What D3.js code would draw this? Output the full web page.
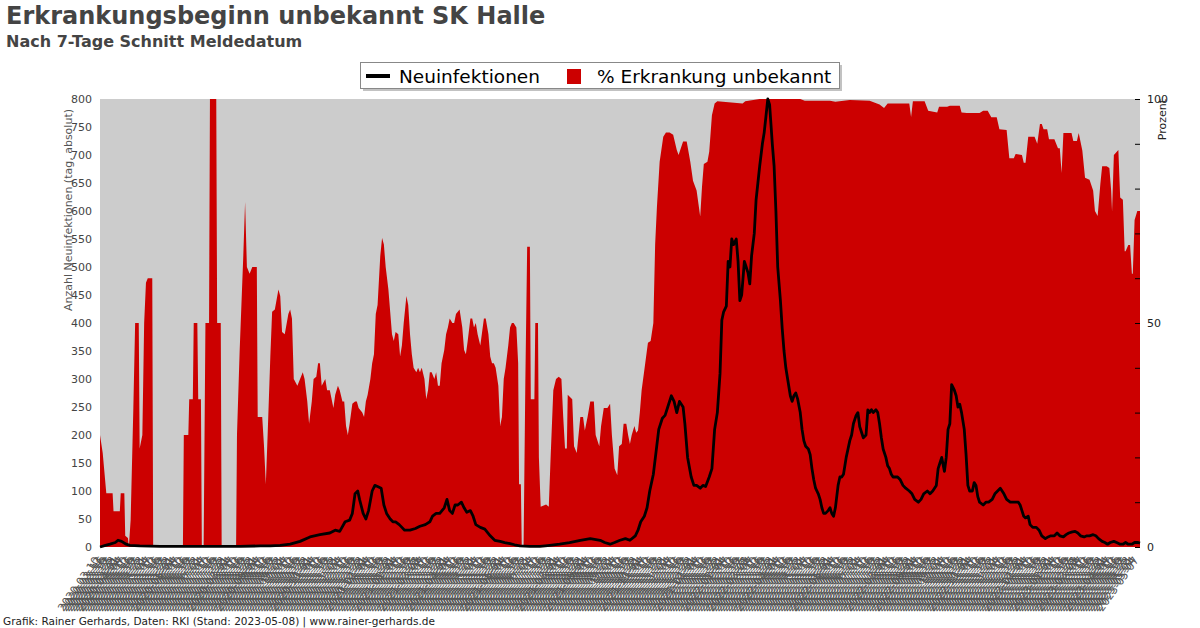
<!DOCTYPE html>
<html><head><meta charset="utf-8">
<script src="https://cdn.jsdelivr.net/npm/d3@7"></script>
<style>
html,body{margin:0;padding:0;background:#fff;}
svg{display:block;font-family:"DejaVu Sans",sans-serif;}
</style></head>
<body>
<svg id="chart" width="1200" height="628"></svg>
<script>
// ---- data ----
const startDate = "2020-03-10";
const endDate = "2023-05-08";
const title = "Erkrankungsbeginn unbekannt SK Halle";
const subtitle = "Nach 7-Tage Schnitt Meldedatum";
const seriesNames = ["Neuinfektionen", "% Erkrankung unbekannt"];
const leftTicks = [0,50,100,150,200,250,300,350,400,450,500,550,600,650,700,750,800];
const rightTickLabels = [0,50,100];
const footer = "Grafik: Rainer Gerhards, Daten: RKI (Stand: 2023-05-08) | www.rainer-gerhards.de";

// % Erkrankung unbekannt (day offset from start, percent)
const pctDays = [0,3,7,14,15,22,23,27,28,31,32,34,37,39,43,44,47,49,51,53,58,59,92,93,98,99,103,104,108,109,112,113,115,117,121,122,129,130,134,135,151,152,155,159,161,163,166,169,174,175,180,182,184,186,189,191,194,198,200,202,205,209,211,213,215,219,222,225,227,230,232,235,237,240,242,244,246,250,252,255,259,261,264,266,269,271,273,275,277,280,283,285,287,291,293,295,297,300,302,304,306,308,311,313,315,317,320,322,324,326,328,331,333,335,337,340,342,344,346,348,351,353,355,357,360,362,364,366,368,371,373,375,377,379,382,384,386,388,391,393,395,397,399,402,404,406,408,411,413,415,417,419,422,424,426,428,431,433,435,437,439,442,444,446,448,450,453,455,457,459,462,464,465,467,468,470,472,474,477,478,482,483,486,487,489,495,498,500,503,506,509,512,514,516,518,519,524,526,529,533,536,538,541,544,548,550,554,556,559,563,566,568,571,574,576,579,581,584,586,588,590,593,595,597,599,601,605,608,611,614,616,618,621,625,628,632,636,640,642,647,651,655,658,662,666,668,670,674,676,679,682,685,713,716,732,777,782,810,816,832,854,865,870,874,893,898,900,902,915,919,929,931,940,943,954,956,962,976,980,985,989,995,998,1006,1009,1014,1016,1023,1025,1027,1030,1037,1040,1043,1045,1047,1051,1053,1059,1063,1065,1067,1069,1078,1080,1084,1086,1090,1093,1098,1102,1104,1107,1110,1112,1117,1120,1122,1123,1125,1130,1132,1135,1137,1138,1141,1143,1145,1146,1148,1151,1154];
const pctValues = [25,21,12,12,8,8,12,12,2.5,2,0,6,31,50,50,22,25,50,59,60,60,0,0,25,25,33,33,50,50,33,33,0,0,50,50,100,100,50,50,0,0,25,44,65,77,62.5,61,62.5,62.5,29,29,22.5,14,25,42.5,52.5,53,57.5,56,48,47.5,52,53,51,37.5,36,37.5,39,37.5,32.5,27.5,32.5,37.5,38,41,41,36,37.5,35,35,31,34,36,35,32.5,32.5,27,25,27.5,32,32.5,32.5,31,30,29,32.5,34,37.5,41,43,52,54,65,69,67.5,62.5,57.5,52.5,47.5,46,48,47.5,42.5,45,50,56,54,47.5,43,40,39,40,39,40,37.5,33,35,39,39,37.5,39,36,36,41,44,47.5,49,51,50,50,52,52.5,53,49,44,43,46,51,51,49,50,47.5,45,48,51,51,47.5,42.5,41,41,40,36,27,29,37.5,40,45,49,50,50,49,41,14,14,0,0,37.5,67,67,33,33,50,50,20,9,9.5,9,20,35,37.5,38,37.5,29,22,22,34,33,22.5,21,29,29,26,29,32.5,32.5,25,22.5,27,31,31,32,25,17.5,16,22.5,23,27.5,27.5,25,23,25,27,25.5,26,30,35,41,45.6,46,50,67.5,76,86,91.6,92.5,92.5,92,88.6,87.5,90.5,90.5,86,81.75,79.6,73.75,80.4,85.5,86,88.25,96.4,99,99.5,99,99.5,100,100,99.6,99.6,99.4,99.75,99.6,98.75,98,99,99,99,96,99.5,99.5,97.4,97,98.25,98.25,98.5,98.5,97,96.9,96.9,97.4,97.4,95.9,95.9,93.25,93.1,86.75,86.75,87.75,87.5,85.75,85.75,91.6,91.6,90,94.4,94.4,93.25,93.25,91,91,89,89,83.5,92.4,92.4,90.6,90.6,92.4,88.5,82.4,82,79.6,75,73.9,81,85,85,84.6,79.6,74.9,87.5,88.6,78,77.5,66,66,67.4,67.4,61,61,73,75,75];

// Neuinfektionen (day offset from start, absolute)
const caseDays = [0,6,11,17,20,24,29,33,44,67,111,155,178,189,200,211,222,233,244,255,261,266,272,277,280,283,286,288,292,295,298,302,305,308,312,315,318,322,325,328,332,335,338,344,350,355,361,366,369,373,377,382,385,388,391,394,397,401,404,407,411,414,417,422,427,433,438,444,449,455,460,466,477,488,494,499,510,521,533,544,555,560,566,571,577,583,588,594,597,600,604,607,610,614,617,620,624,627,630,634,637,640,643,647,649,652,656,659,662,666,669,672,676,679,682,685,688,690,692,695,697,699,701,703,706,708,710,712,715,717,719,721,723,726,728,730,732,735,737,739,741,743,746,748,750,752,755,757,759,761,763,766,768,770,772,774,777,779,781,783,786,788,790,792,794,797,799,801,803,805,808,810,812,814,816,819,821,823,825,828,830,832,834,836,839,841,843,845,847,850,852,854,856,858,861,863,865,867,869,872,874,876,878,880,885,888,891,894,898,901,904,908,911,914,918,921,924,928,930,932,934,937,939,941,943,945,948,950,952,954,956,959,961,963,965,968,970,972,974,976,980,983,986,990,993,996,999,1001,1003,1006,1010,1014,1019,1021,1023,1025,1027,1030,1032,1035,1039,1042,1045,1049,1052,1055,1059,1062,1065,1069,1072,1075,1079,1082,1085,1088,1092,1095,1098,1102,1105,1108,1112,1115,1118,1121,1125,1128,1132,1135,1138,1141,1145,1148,1152,1154];
const caseValues = [0,3,5,8,12,10,5,3,2,1,1,1,2,2,3,5,10,18,22,25,30,28,45,48,60,95,100,85,60,50,65,100,110,108,105,75,60,50,45,45,40,35,30,30,33,37,40,45,55,60,60,70,85,65,60,75,75,80,70,62,65,55,40,35,32,20,12,10,8,6,4,2,1,1,2,3,5,8,12,15,12,8,5,8,12,15,12,20,30,45,55,70,100,130,170,210,230,235,250,270,260,240,260,250,220,160,125,110,110,105,110,108,125,140,210,240,310,405,420,430,510,500,550,540,550,510,440,450,510,500,490,470,520,560,620,650,680,720,740,770,800,790,720,680,600,500,440,390,350,320,300,270,260,270,275,265,240,210,190,180,175,165,140,120,105,95,85,70,60,60,65,70,60,55,70,110,125,125,130,160,175,190,200,220,235,240,215,205,195,200,245,240,245,240,245,240,220,195,175,160,145,140,130,125,125,120,110,105,100,95,85,80,85,95,100,95,100,110,140,150,160,135,160,210,220,290,280,270,250,255,240,210,165,110,100,100,115,110,90,80,75,80,80,85,95,100,105,100,95,85,80,80,80,75,65,55,52,55,40,35,35,30,20,15,18,20,20,25,20,18,22,25,27,28,25,20,18,20,20,22,20,15,10,8,5,8,10,8,5,5,8,5,5,8,8,7];

// ---- drawing ----
const svg = d3.select("#chart");
const W = 1200, H = 628;
const m = {left:100, right:60, top:99, bottom:81};
const pw = W - m.left - m.right, ph = H - m.top - m.bottom;

const parse = d3.utcParse("%Y-%m-%d");
const t0 = parse(startDate), t1 = parse(endDate);
const x = d3.scaleUtc().domain([t0, t1]).range([m.left, m.left + pw]);
const y = d3.scaleLinear().domain([0, 800]).range([m.top + ph, m.top]);
const yR = d3.scaleLinear().domain([0, 100]).range([m.top + ph, m.top]);

const pctData = pctDays.map((d,i)=>({date:d3.utcDay.offset(t0,d), v:pctValues[i]}));
const caseData = caseDays.map((d,i)=>({date:d3.utcDay.offset(t0,d), v:caseValues[i]}));

// titles
svg.append("text").attr("x",6).attr("y",24).attr("font-size",24).attr("font-weight","bold").attr("fill","#444").text(title);
svg.append("text").attr("x",6).attr("y",47).attr("font-size",16).attr("font-weight","bold").attr("fill","#444").text(subtitle);

// plot background
svg.append("rect").attr("x",m.left).attr("y",m.top).attr("width",pw).attr("height",ph).attr("fill","#cccccc");

// red area
svg.append("path").datum(pctData)
  .attr("fill","#cc0000")
  .attr("d", d3.area().x(d=>x(d.date)).y0(yR(0)).y1(d=>yR(d.v)));

// black line
svg.append("path").datum(caseData)
  .attr("fill","none").attr("stroke","#000").attr("stroke-width",2.8).attr("stroke-linejoin","round")
  .attr("d", d3.line().x(d=>x(d.date)).y(d=>y(d.v)));

// left axis
const gL = svg.append("g").attr("transform",`translate(${m.left},0)`)
  .call(d3.axisLeft(y).tickValues(leftTicks).tickSize(0).tickPadding(8));
gL.select(".domain").remove();
gL.selectAll("text").attr("font-size",11).attr("fill","#444").attr("font-family","DejaVu Sans");

// right axis
const gR = svg.append("g").attr("transform",`translate(${m.left+pw},0)`)
  .call(d3.axisLeft(yR).ticks(10).tickSize(5).tickFormat(()=>""));
gR.select(".domain").remove();
gR.selectAll("line").attr("stroke","#000");
svg.append("g").selectAll("text").data(rightTickLabels).join("text")
  .attr("x",m.left+pw+7).attr("y",d=>yR(d)+4).attr("font-size",11).attr("fill","#222").text(d=>d);

// axis titles
svg.append("text").attr("transform",`translate(72,${m.top+10}) rotate(-90)`).attr("text-anchor","end")
  .attr("font-size",11).attr("fill","#555").text("Anzahl Neuinfektionen (tag, absolut)");
svg.append("text").attr("transform",`translate(1166,${m.top}) rotate(-90)`).attr("text-anchor","end")
  .attr("font-size",11).attr("fill","#222").text("Prozent");

// x axis
const gX = svg.append("g").attr("transform",`translate(0,${m.top+ph})`)
  .call(d3.axisBottom(x).ticks(d3.utcDay.every(3)).tickSize(0).tickFormat(d3.utcFormat("%Y-%m-%d")));
gX.select(".domain").remove();
gX.selectAll("text").attr("font-size",11).attr("fill","#555").attr("font-family","DejaVu Sans")
  .attr("text-anchor","end").attr("dy","0.35em")
  .attr("transform","translate(-6,9) rotate(-55)");

// legend
const lg = svg.append("g");
lg.append("rect").attr("x",363).attr("y",65).attr("width",479).attr("height",26).attr("fill","#999").attr("opacity",0.6);
lg.append("rect").attr("x",360.5).attr("y",62.5).attr("width",479).attr("height",26).attr("fill","#fff").attr("stroke","#888");
lg.append("line").attr("x1",366).attr("x2",390).attr("y1",76).attr("y2",76).attr("stroke","#000").attr("stroke-width",4);
lg.append("text").attr("x",399).attr("y",83).attr("font-size",18.5).attr("fill","#000").text(seriesNames[0]);
lg.append("rect").attr("x",567).attr("y",69).attr("width",14).attr("height",15).attr("fill","#cc0000");
lg.append("text").attr("x",597).attr("y",83).attr("font-size",18.5).attr("fill","#000").text(seriesNames[1]);

// footer
svg.append("text").attr("x",3).attr("y",625).attr("font-size",10.5).attr("fill","#222").text(footer);
</script>
</body></html>
